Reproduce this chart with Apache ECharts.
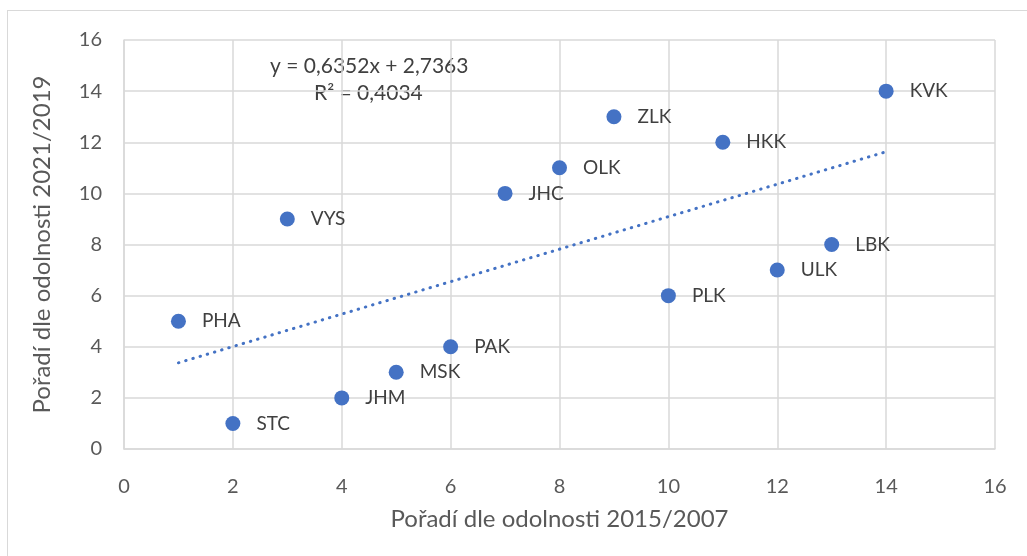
<!DOCTYPE html>
<html>
<head>
<meta charset="utf-8">
<script src="https://cdn.jsdelivr.net/npm/echarts@6/dist/echarts.min.js"></script>
<style>
  html, body { margin: 0; padding: 0; background: #fff; }
  #frame { position: absolute; left: 7px; top: 10px; width: 1030px; height: 560px; border: 1px solid #d9d9d9; box-sizing: border-box; }
  #main { width: 1027px; height: 556px; position: absolute; left: 0; top: 0; }
</style>
</head>
<body>
<div id="frame"></div>
<div id="main"></div>
<script>
  // kraje a jejich pořadí
  var regions = ['PHA', 'STC', 'VYS', 'JHM', 'MSK', 'PAK', 'JHC', 'OLK', 'ZLK', 'PLK', 'HKK', 'ULK', 'LBK', 'KVK'];
  var rank2015 = [1, 2, 3, 4, 5, 6, 7, 8, 9, 10, 11, 12, 13, 14];
  var rank2021 = [5, 1, 9, 2, 3, 4, 10, 11, 13, 6, 12, 7, 8, 14];
  // lineární trend
  var slope = 0.6352;
  var intercept = 2.7363;
  var trendX = [1, 14];

  var font = 'Lato, "Open Sans", sans-serif';
  var blue = '#4472C4';

  var points = rank2015.map(function (x, i) { return [x, rank2021[i], regions[i]]; });
  var trend = trendX.map(function (x) { return [x, slope * x + intercept]; });

  var myChart = echarts.init(document.getElementById('main'));
  myChart.setOption({
    animation: false,
    grid: { left: 124, right: 32, top: 40, bottom: 107 },
    xAxis: {
      type: 'value', min: 0, max: 16, interval: 2,
      name: 'Pořadí dle odolnosti 2015/2007',
      nameLocation: 'middle', nameGap: 58,
      nameTextStyle: { fontFamily: font, fontSize: 24, color: '#595959' },
      axisLine: { show: true, lineStyle: { color: '#d9d9d9', width: 1.5 } },
      axisTick: { show: false },
      axisLabel: { fontFamily: font, fontSize: 20, color: '#595959', margin: 28 },
      splitLine: { show: true, lineStyle: { color: '#d9d9d9', width: 1.5 } }
    },
    yAxis: {
      type: 'value', min: 0, max: 16, interval: 2,
      name: 'Pořadí dle odolnosti 2021/2019',
      nameLocation: 'middle', nameGap: 70,
      nameTextStyle: { fontFamily: font, fontSize: 24, color: '#595959' },
      axisLine: { show: true, lineStyle: { color: '#d9d9d9', width: 1.5 } },
      axisTick: { show: false },
      axisLabel: { fontFamily: font, fontSize: 20, color: '#595959', margin: 22 },
      splitLine: { show: true, lineStyle: { color: '#d9d9d9', width: 1.5 } }
    },
    series: [
      {
        type: 'line',
        data: trend,
        symbol: 'none',
        lineStyle: { color: blue, width: 3, type: [0.5, 7], cap: 'round' },
        z: 1
      },
      {
        type: 'scatter',
        data: points,
        symbolSize: 15,
        itemStyle: { color: blue, opacity: 1 },
        label: {
          show: true, position: 'right', distance: 16,
          formatter: function (p) { return p.data[2]; },
          fontFamily: font, fontSize: 19, color: '#404040'
        },
        z: 3
      }
    ],
    graphic: [
      {
        type: 'text', left: 270, top: 56,
        style: { text: 'y = 0,6352x + 2,7363', font: '21px ' + font, fill: '#404040' }
      },
      {
        type: 'text', left: 314, top: 83,
        style: { text: 'R² = 0,4034', font: '21px ' + font, fill: '#404040' }
      }
    ]
  });
</script>
</body>
</html>
